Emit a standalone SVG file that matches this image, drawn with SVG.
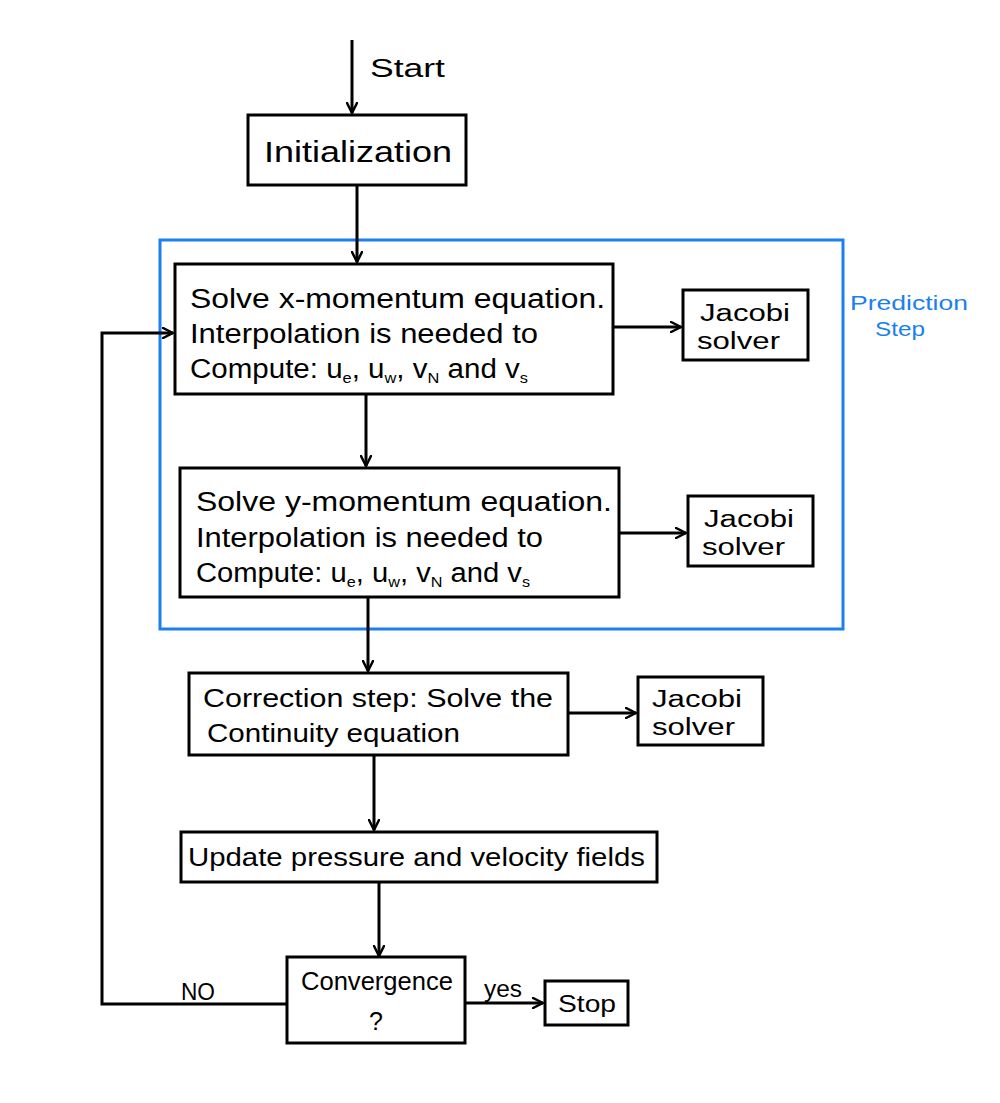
<svg xmlns="http://www.w3.org/2000/svg" width="1000" height="1103" viewBox="0 0 1000 1103">
<defs>
<marker id="ah" viewBox="0 0 12 12" refX="11" refY="6" markerWidth="12" markerHeight="12" markerUnits="userSpaceOnUse" orient="auto">
<path d="M1,1 L11,6 L1,11" fill="none" stroke="#000" stroke-width="2.5" stroke-linecap="round" stroke-linejoin="round"/>
</marker>
<style>
.box{fill:#fff;stroke:#000;stroke-width:3}
.t{font-family:"Liberation Sans",Arial,sans-serif;fill:#000}
.b{fill:#1a7ff0}
.edge{fill:none;stroke:#000;stroke-width:3;marker-end:url(#ah)}
.sub{font-size:15px}
</style>
</defs>
<rect width="1000" height="1103" fill="#fff"/>
<g id="prediction">
<rect x="160" y="240" width="683" height="389" fill="none" stroke="#1a7ff0" stroke-width="3"/>
<text class="t b" x="850" y="310" font-size="21" textLength="118" lengthAdjust="spacingAndGlyphs">Prediction</text>
<text class="t b" x="875" y="336" font-size="21" textLength="50" lengthAdjust="spacingAndGlyphs">Step</text>
</g>
<g id="connectors">
<line class="edge" x1="352" y1="40" x2="352" y2="113"/>
<line class="edge" x1="357" y1="185" x2="357" y2="262"/>
<line class="edge" x1="613" y1="327" x2="681" y2="327"/>
<line class="edge" x1="366" y1="394" x2="366" y2="466"/>
<line class="edge" x1="619" y1="533" x2="686" y2="533"/>
<line class="edge" x1="368" y1="597" x2="368" y2="671"/>
<line class="edge" x1="568" y1="713" x2="636" y2="713"/>
<line class="edge" x1="374" y1="755" x2="374" y2="830"/>
<line class="edge" x1="379" y1="882" x2="379" y2="956"/>
<line class="edge" x1="465" y1="1003" x2="543" y2="1003"/>
<polyline class="edge" points="287,1004 102,1004 102,333 173,333"/>
<text class="t" x="370" y="77" font-size="26" textLength="75" lengthAdjust="spacingAndGlyphs">Start</text>
<text class="t" x="181" y="1000" font-size="23" textLength="34" lengthAdjust="spacingAndGlyphs">NO</text>
<text class="t" x="484" y="997" font-size="23" textLength="38" lengthAdjust="spacingAndGlyphs">yes</text>
</g>
<g id="init">
<rect class="box" x="248" y="115" width="218" height="70"/>
<text class="t" x="264" y="162" font-size="30" textLength="188" lengthAdjust="spacingAndGlyphs">Initialization</text>
</g>
<g id="xmom">
<rect class="box" x="175" y="264" width="438" height="130"/>
<text class="t" x="190" y="308" font-size="27" textLength="415" lengthAdjust="spacingAndGlyphs">Solve x-momentum equation.</text>
<text class="t" x="190" y="343" font-size="27" textLength="348" lengthAdjust="spacingAndGlyphs">Interpolation is needed to</text>
<text class="t" x="190" y="378" font-size="27" textLength="338" lengthAdjust="spacingAndGlyphs">Compute: u<tspan class="sub" dy="5">e</tspan><tspan dy="-5">, u</tspan><tspan class="sub" dy="5">w</tspan><tspan dy="-5">, v</tspan><tspan class="sub" dy="5">N</tspan><tspan dy="-5"> and v</tspan><tspan class="sub" dy="5">s</tspan></text>
</g>
<g id="jacobi1">
<rect class="box" x="683" y="290" width="125" height="70"/>
<text class="t" x="700" y="321" font-size="23" textLength="90" lengthAdjust="spacingAndGlyphs">Jacobi</text>
<text class="t" x="697" y="349" font-size="23" textLength="83" lengthAdjust="spacingAndGlyphs">solver</text>
</g>
<g id="ymom">
<rect class="box" x="180" y="468" width="439" height="129"/>
<text class="t" x="196" y="511" font-size="27" textLength="416" lengthAdjust="spacingAndGlyphs">Solve y-momentum equation.</text>
<text class="t" x="196" y="547" font-size="27" textLength="347" lengthAdjust="spacingAndGlyphs">Interpolation is needed to</text>
<text class="t" x="196" y="582" font-size="27" textLength="334" lengthAdjust="spacingAndGlyphs">Compute: u<tspan class="sub" dy="5">e</tspan><tspan dy="-5">, u</tspan><tspan class="sub" dy="5">w</tspan><tspan dy="-5">, v</tspan><tspan class="sub" dy="5">N</tspan><tspan dy="-5"> and v</tspan><tspan class="sub" dy="5">s</tspan></text>
</g>
<g id="jacobi2">
<rect class="box" x="688" y="496" width="125" height="70"/>
<text class="t" x="704" y="527" font-size="23" textLength="90" lengthAdjust="spacingAndGlyphs">Jacobi</text>
<text class="t" x="702" y="555" font-size="23" textLength="83" lengthAdjust="spacingAndGlyphs">solver</text>
</g>
<g id="correction">
<rect class="box" x="189" y="673" width="379" height="82"/>
<text class="t" x="203" y="707" font-size="26" textLength="350" lengthAdjust="spacingAndGlyphs">Correction step: Solve the</text>
<text class="t" x="207" y="742" font-size="26" textLength="253" lengthAdjust="spacingAndGlyphs">Continuity equation</text>
</g>
<g id="jacobi3">
<rect class="box" x="638" y="677" width="125" height="68"/>
<text class="t" x="652" y="707" font-size="23" textLength="90" lengthAdjust="spacingAndGlyphs">Jacobi</text>
<text class="t" x="652" y="735" font-size="23" textLength="83" lengthAdjust="spacingAndGlyphs">solver</text>
</g>
<g id="update">
<rect class="box" x="181" y="832" width="476" height="50"/>
<text class="t" x="188" y="866" font-size="25" textLength="457" lengthAdjust="spacingAndGlyphs">Update pressure and velocity fields</text>
</g>
<g id="convergence">
<rect class="box" x="287" y="957" width="178" height="86"/>
<text class="t" x="301" y="990" font-size="25" textLength="152" lengthAdjust="spacingAndGlyphs">Convergence</text>
<text class="t" x="376" y="1030" font-size="25" text-anchor="middle">?</text>
</g>
<g id="stop">
<rect class="box" x="545" y="981" width="83" height="44"/>
<text class="t" x="558" y="1012" font-size="24" textLength="58" lengthAdjust="spacingAndGlyphs">Stop</text>
</g>
</svg>
